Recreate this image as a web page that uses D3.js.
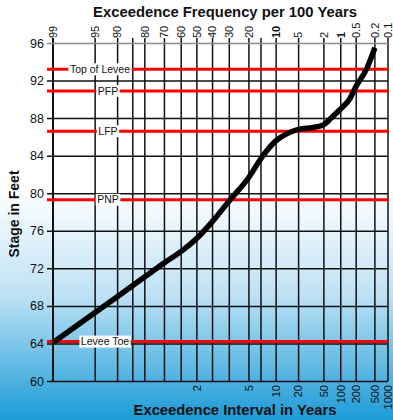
<!DOCTYPE html>
<html>
<head>
<meta charset="utf-8">
<script src="https://cdn.jsdelivr.net/npm/d3@7"></script>
<style>
  html, body { margin: 0; padding: 0; }
  svg { display: block; font-family: "Liberation Sans", Arial, sans-serif; }
</style>
</head>
<body>
<svg id="chart" width="393" height="420"></svg>
<script>
/*************************Data********************* */
// exceedance frequency (per 100 years) vs stage (feet)
const curveFreq = [99, 95, 90, 80, 70, 60, 50, 40, 30, 20, 15, 10, 7, 5, 3, 2, 1.5, 1, 0.7, 0.5, 0.3, 0.2];
const curveStage = [64.1, 67.3, 69.0, 71.1, 72.6, 73.8, 75.2, 77.0, 79.2, 81.7, 83.7, 85.6, 86.4, 86.8, 87.0, 87.3, 88.0, 89.0, 89.9, 91.4, 93.3, 95.5];

const gridFreq = [99, 95, 90, 85, 80, 70, 60, 50, 40, 30, 20, 15, 10, 5, 2, 1, 0.5, 0.2, 0.1];
const topTickLabels = [99, 95, 90, 80, 70, 60, 50, 40, 30, 20, 10, 5, 2, 1, 0.5, 0.2, 0.1];
const boldTopLabels = [10, 1];
const intervalLabels = [2, 5, 10, 20, 50, 100, 200, 500, 1000];
const stageTicks = [60, 64, 68, 72, 76, 80, 84, 88, 92, 96];

const levelNames = ["Top of Levee", "PFP", "LFP", "PNP", "Levee Toe"];
const levelStages = [93.2, 90.9, 86.6, 79.3, 64.2];

/*************************Layout********************* */
const width = 393;
const height = 420;
const margin = { left: 53, right: 5, top: 43, bottom: 39 };
const labelCenters = [100, 108, 108, 108, 105];

const svg = d3.select("svg#chart");

// background gradient
const defs = svg.append("defs");
const grad = defs.append("linearGradient").attr("id", "bg").attr("x1", 0).attr("y1", 0).attr("x2", 0).attr("y2", 1);
grad.append("stop").attr("offset", "0%").attr("stop-color", "#ffffff");
grad.append("stop").attr("offset", "45%").attr("stop-color", "#ffffff");
grad.append("stop").attr("offset", "70%").attr("stop-color", "#bfe2f5");
grad.append("stop").attr("offset", "100%").attr("stop-color", "#1b9bd7");
svg.append("rect").attr("width", width).attr("height", height).attr("fill", "url(#bg)");

// inverse normal CDF (Acklam)
const qnorm = (p) => {
  const a = [-3.969683028665376e1, 2.209460984245205e2, -2.759285104469687e2, 1.38357751867269e2, -3.066479806614716e1, 2.506628277459239];
  const b = [-5.447609879822406e1, 1.615858368580409e2, -1.556989798598866e2, 6.680131188771972e1, -1.328068155288572e1];
  const c = [-7.784894002430293e-3, -3.223964580411365e-1, -2.400758277161838, -2.549732539343734, 4.374664141464968, 2.938163982698783];
  const d = [7.784695709041462e-3, 3.224671290700398e-1, 2.445134137142996, 3.754408661907416];
  const pl = 0.02425;
  let q, r;
  if (p < pl) {
    q = Math.sqrt(-2 * Math.log(p));
    return (((((c[0] * q + c[1]) * q + c[2]) * q + c[3]) * q + c[4]) * q + c[5]) / ((((d[0] * q + d[1]) * q + d[2]) * q + d[3]) * q + 1);
  }
  if (p > 1 - pl) {
    q = Math.sqrt(-2 * Math.log(1 - p));
    return -(((((c[0] * q + c[1]) * q + c[2]) * q + c[3]) * q + c[4]) * q + c[5]) / ((((d[0] * q + d[1]) * q + d[2]) * q + d[3]) * q + 1);
  }
  q = p - 0.5;
  r = q * q;
  return ((((((a[0] * r + a[1]) * r + a[2]) * r + a[3]) * r + a[4]) * r + a[5]) * q) / (((((b[0] * r + b[1]) * r + b[2]) * r + b[3]) * r + b[4]) * r + 1);
};
const zOf = (freq) => qnorm(1 - freq / 100);

const zScale = d3.scaleLinear().domain([zOf(99), zOf(0.1)]).range([margin.left, width - margin.right]);
const x = (freq) => zScale(zOf(freq));
const xInterval = (years) => x(100 / years);

const y = d3.scaleLinear().domain([60, 96]).range([height - margin.bottom, margin.top]);

const plotLeft = margin.left;
const plotRight = width - margin.right;
const plotTop = margin.top;
const plotBottom = height - margin.bottom;

/*************************Grid********************* */
const grid = svg.append("g").attr("class", "grid");

// horizontal lines via y axis
const yAxis = d3.axisLeft(y).tickValues(stageTicks).tickSize(-(plotRight - plotLeft + 6)).tickSizeOuter(0).tickPadding(3);
const yg = svg.append("g").attr("class", "y-axis").attr("transform", `translate(${plotLeft - 6},0)`).call(yAxis);
yg.select(".domain").remove();
yg.selectAll(".tick line").attr("stroke", (d) => (d === 96 ? "#8a8a8a" : "#111")).attr("stroke-width", 1.5);
yg.selectAll(".tick text").attr("font-size", 12.5).attr("fill", "#111").style("font-family", "'Liberation Sans', Arial, sans-serif");

// vertical lines
grid
  .selectAll("line.v")
  .data(gridFreq)
  .join("line")
  .attr("class", "v")
  .attr("x1", (d) => x(d))
  .attr("x2", (d) => x(d))
  .attr("y1", plotTop - 5)
  .attr("y2", plotBottom)
  .attr("stroke", "#111")
  .attr("stroke-width", (d) => (d === 99 ? 2 : 1.5));

/*************************Top axis labels********************* */
svg
  .append("g")
  .attr("class", "top-labels")
  .selectAll("text")
  .data(topTickLabels)
  .join("text")
  .attr("transform", (d) => `translate(${x(d)},${plotTop - 5}) rotate(-90)`)
  .attr("dy", "0.35em")
  .attr("text-anchor", "start")
  .attr("font-size", 11)
  .attr("font-weight", (d) => (boldTopLabels.includes(d) ? "bold" : "normal"))
  .attr("fill", "#111")
  .text((d) => d);

/*************************Bottom axis labels********************* */
svg
  .append("g")
  .attr("class", "bottom-labels")
  .selectAll("text")
  .data(intervalLabels)
  .join("text")
  .attr("transform", (d) => `translate(${xInterval(d)},${plotBottom + 4}) rotate(-90)`)
  .attr("dy", "0.35em")
  .attr("text-anchor", "end")
  .attr("font-size", 11)
  .attr("fill", "#111")
  .text((d) => d);

/*************************Level lines********************* */
const levels = levelNames.map((name, i) => ({ name, stage: levelStages[i], cx: labelCenters[i] }));
const lv = svg.append("g").attr("class", "levels");
lv.selectAll("line")
  .data(levels)
  .join("line")
  .attr("x1", plotLeft - 6)
  .attr("x2", plotRight)
  .attr("y1", (d) => y(d.stage))
  .attr("y2", (d) => y(d.stage))
  .attr("stroke", "#ff0000")
  .attr("stroke-width", 3);

const lbl = lv.selectAll("g.lbl").data(levels).join("g").attr("class", "lbl");
lbl
  .append("text")
  .attr("x", (d) => d.cx)
  .attr("y", (d) => y(d.stage))
  .attr("dy", "0.35em")
  .attr("text-anchor", "middle")
  .attr("font-size", 10.5)
  .attr("fill", "#111")
  .text((d) => d.name)
  .each(function (d) {
    const bb = this.getBBox();
    d3.select(this.parentNode)
      .insert("rect", "text")
      .attr("x", bb.x - 1.5)
      .attr("y", y(d.stage) - 6)
      .attr("width", bb.width + 3)
      .attr("height", 12)
      .attr("fill", "#fff");
  });

/*************************Curve********************* */
const pts = curveFreq.map((f, i) => [x(f), y(curveStage[i])]);
svg
  .append("path")
  .datum(pts)
  .attr("d", d3.line().curve(d3.curveMonotoneX))
  .attr("fill", "none")
  .attr("stroke", "#000")
  .attr("stroke-width", 5.5)
  .attr("stroke-linecap", "butt");

/*************************Titles********************* */
svg
  .append("text")
  .text("Exceedence Frequency per 100 Years")
  .attr("x", 225)
  .attr("y", 17)
  .attr("text-anchor", "middle")
  .attr("font-size", 14.8)
  .attr("font-weight", "bold")
  .attr("fill", "#111");

svg
  .append("text")
  .text("Exceedence Interval in Years")
  .attr("x", 235)
  .attr("y", 415)
  .attr("text-anchor", "middle")
  .attr("font-size", 14.8)
  .attr("font-weight", "bold")
  .attr("fill", "#111");

svg
  .append("text")
  .text("Stage in Feet")
  .attr("transform", `translate(19,${(plotTop + plotBottom) / 2 + 2}) rotate(-90)`)
  .attr("text-anchor", "middle")
  .attr("font-size", 14)
  .attr("font-weight", "bold")
  .attr("fill", "#111");
</script>
</body>
</html>
